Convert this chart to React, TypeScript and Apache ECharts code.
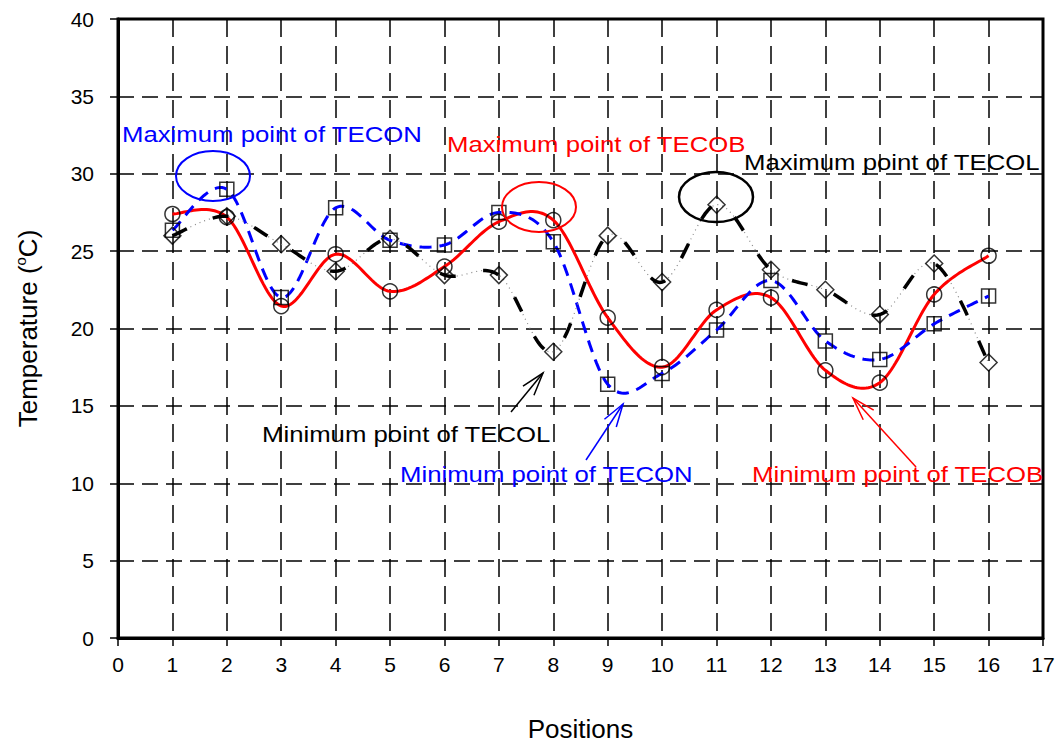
import React, { useEffect, useRef } from "react";
import * as echarts from "echarts";

const positions = [1, 2, 3, 4, 5, 6, 7, 8, 9, 10, 11, 12, 13, 14, 15, 16];
const tecob = [27.4, 27.2, 21.45, 24.8, 22.4, 24.0, 26.9, 27.0, 20.7, 17.5, 21.2, 22.0, 17.3, 16.5, 22.2, 24.7];
const tecon = [26.35, 29.0, 22.0, 27.8, 25.7, 25.4, 27.5, 25.6, 16.4, 17.1, 19.9, 23.1, 19.2, 18.0, 20.3, 22.1];
const tecol = [26.0, 27.25, 25.45, 23.7, 25.8, 23.45, 23.45, 18.5, 26.0, 23.0, 28.0, 23.8, 22.5, 20.9, 24.2, 17.8];

const annotationTexts = [
  { text: "Maximum point of TECON", color: "#0000ff", x: 122, y: 134 },
  { text: "Maximum point of TECOB", color: "#ff0000", x: 447, y: 144 },
  { text: "Maximum point of TECOL", color: "#000000", x: 744, y: 162 },
  { text: "Minimum point of TECOL", color: "#000000", x: 262, y: 434 },
  { text: "Minimum point of TECON", color: "#0000ff", x: 400, y: 474 },
  { text: "Minimum point of TECOB", color: "#ff0000", x: 752, y: 474 },
];

const ellipses = [
  { cx: 213, cy: 176, rx: 37, ry: 25, color: "#0000ff", w: 2 },
  { cx: 539, cy: 207, rx: 37, ry: 25, color: "#ff0000", w: 2 },
  { cx: 716, cy: 197, rx: 37, ry: 25, color: "#000000", w: 2.5 },
];

const arrows = [
  { x1: 511, y1: 412, x2: 543, y2: 373, color: "#000000" },
  { x1: 586, y1: 460, x2: 623, y2: 404, color: "#0000ff" },
  { x1: 916, y1: 467, x2: 853, y2: 398, color: "#ff0000" },
];

const FONT = "'Liberation Sans', Arial, sans-serif";

function arrowGraphics(a: { x1: number; y1: number; x2: number; y2: number; color: string }) {
  const ang = Math.atan2(a.y2 - a.y1, a.x2 - a.x1);
  const len = 24;
  const spread = 0.3;
  const p1 = [a.x2 - len * Math.cos(ang - spread), a.y2 - len * Math.sin(ang - spread)];
  const p2 = [a.x2 - len * Math.cos(ang + spread), a.y2 - len * Math.sin(ang + spread)];
  return [
    { type: "line", shape: { x1: a.x1, y1: a.y1, x2: a.x2, y2: a.y2 }, style: { stroke: a.color, lineWidth: 1.5 }, z: 100 },
    { type: "polyline", shape: { points: [p1, [a.x2, a.y2], p2] }, style: { stroke: a.color, fill: "none", lineWidth: 1.5 }, z: 100 },
  ];
}

// Catmull-Rom style smoothing (like spreadsheet "smoothed line"), rendered in pixel space
function splinePoints(P: number[][]) {
  const out: number[][] = [];
  const n = P.length;
  const steps = 24;
  for (let i = 0; i < n - 1; i++) {
    const p0 = P[Math.max(0, i - 1)];
    const p1 = P[i];
    const p2 = P[i + 1];
    const p3 = P[Math.min(n - 1, i + 2)];
    const c1 = [p1[0] + (p2[0] - p0[0]) / 6, p1[1] + (p2[1] - p0[1]) / 6];
    const c2 = [p2[0] - (p3[0] - p1[0]) / 6, p2[1] - (p3[1] - p1[1]) / 6];
    for (let s = i === 0 ? 0 : 1; s <= steps; s++) {
      const t = s / steps;
      const u = 1 - t;
      const x = u * u * u * p1[0] + 3 * u * u * t * c1[0] + 3 * u * t * t * c2[0] + t * t * t * p2[0];
      const y = u * u * u * p1[1] + 3 * u * u * t * c1[1] + 3 * u * t * t * c2[1] + t * t * t * p2[1];
      out.push([x, y]);
    }
  }
  return out;
}

export default function App() {
  const ref = useRef<HTMLDivElement>(null);
  useEffect(() => {
    if (!ref.current) return;
    const chart = echarts.init(ref.current, undefined, { renderer: "svg" });
    const pts = (vals: number[]) => positions.map((p, i) => [p, vals[i]]);
    const marker = { color: "rgba(0,0,0,0)", borderColor: "#000", borderWidth: 1.5 };

    const curve = (name: string, vals: number[], style: any, z: number) => ({
      name,
      type: "custom",
      data: pts(vals),
      encode: { x: 0, y: 1 },
      z,
      silent: true,
      renderItem: (params: any, api: any) => {
        if (params.dataIndex !== 0) return null;
        const P = positions.map((p, i) => api.coord([p, vals[i]]));
        return {
          type: "polyline",
          shape: { points: splinePoints(P) },
          style: { fill: null, ...style },
        };
      },
    });

    const graphics: any[] = [];
    ellipses.forEach((e) =>
      graphics.push({
        type: "ellipse",
        shape: { cx: e.cx, cy: e.cy, rx: e.rx, ry: e.ry },
        style: { fill: "none", stroke: e.color, lineWidth: e.w },
        z: 100,
      })
    );
    arrows.forEach((a) => graphics.push(...arrowGraphics(a)));
    annotationTexts.forEach((t) =>
      graphics.push({
        type: "text",
        x: t.x,
        y: t.y,
        scaleX: 1.17,
        z: 100,
        style: {
          text: t.text,
          fill: t.color,
          fontSize: 22,
          fontFamily: FONT,
          align: "left",
          verticalAlign: "middle",
        },
      })
    );
    chart.setOption({
      animation: false,
      backgroundColor: "#fff",
      grid: { left: 118, right: 16, top: 19, bottom: 107, show: true, borderColor: "#000", borderWidth: 3, backgroundColor: "transparent" },
      xAxis: {
        type: "value",
        min: 0,
        max: 17,
        interval: 1,
        name: "Positions",
        nameLocation: "middle",
        nameGap: 78,
        nameTextStyle: { fontSize: 26, fontFamily: FONT, color: "#000" },
        axisLine: { lineStyle: { color: "#000", width: 3 } },
        axisTick: { show: true, length: 8, lineStyle: { color: "#000", width: 1.5 } },
        axisLabel: { fontSize: 21, fontFamily: FONT, color: "#000", margin: 16 },
        splitLine: { show: true, lineStyle: { color: "#000", width: 1.5, type: [18, 9] } },
      },
      yAxis: {
        type: "value",
        min: 0,
        max: 40,
        interval: 5,
        name: "Temperature ({sup|o}C)",
        nameLocation: "middle",
        nameGap: 76,
        nameTextStyle: {
          fontSize: 26,
          fontFamily: FONT,
          color: "#000",
          rich: { sup: { fontSize: 15, fontFamily: FONT, color: "#000", padding: [0, 0, 14, 0] } },
        },
        axisLine: { show: true, lineStyle: { color: "#000", width: 3 } },
        axisTick: { show: true, length: 8, lineStyle: { color: "#000", width: 1.5 } },
        axisLabel: { fontSize: 21, fontFamily: FONT, color: "#000", margin: 24 },
        splitLine: { show: true, lineStyle: { color: "#000", width: 1.5, type: [16, 8] } },
      },
      series: [
        curve("TECOB", tecob, { stroke: "#ff0000", lineWidth: 3 }, 3),
        curve("TECON", tecon, { stroke: "#0000ff", lineWidth: 3, lineDash: [12, 8] }, 4),
        curve("TECOL dots", tecol, { stroke: "#888", lineWidth: 1.2, lineDash: [1, 4] }, 5),
        curve("TECOL", tecol, { stroke: "#000", lineWidth: 3.5, lineDash: [16, 28] }, 6),
        { name: "TECOB points", type: "scatter", data: pts(tecob), symbol: "circle", symbolSize: 15, itemStyle: marker, z: 10 },
        { name: "TECON points", type: "scatter", data: pts(tecon), symbol: "rect", symbolSize: 14, itemStyle: marker, z: 10 },
        { name: "TECOL points", type: "scatter", data: pts(tecol), symbol: "diamond", symbolSize: 17, itemStyle: marker, z: 10 },
      ],
      graphic: graphics,
    });
    return () => chart.dispose();
  }, []);
  return <div ref={ref} style={{ position: "fixed", left: 0, top: 0, width: 1059, height: 747 }} />;
}
